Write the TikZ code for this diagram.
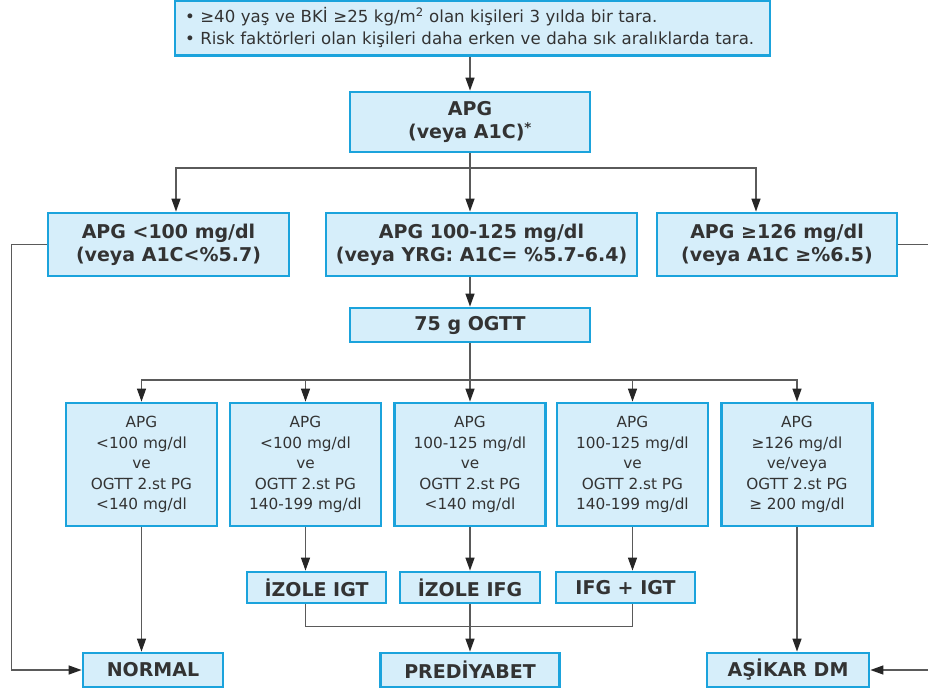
\documentclass[tikz,border=0pt]{standalone}
\usepackage{fontspec}
\setmainfont{DejaVu Sans}
\usepackage{xcolor}
\usetikzlibrary{arrows.meta,positioning,calc}
\definecolor{boxfill}{HTML}{D6EEFA}
\definecolor{boxline}{HTML}{1BA3DC}
\definecolor{flowgray}{HTML}{5A5A5A}
\definecolor{textgray}{HTML}{333333}

\begin{document}
\begin{tikzpicture}[x=1pt, y=-1pt, text=textgray,
  box/.style={draw=boxline, fill=boxfill, line width=2.8pt, align=center, inner sep=0pt},
  bbox/.style={box, font=\fontsize{19}{23}\selectfont\bfseries},
  sbox/.style={box, minimum width=151pt, minimum height=123pt, font=\fontsize{15.3}{20.5}\selectfont},
  flow/.style={draw=flowgray, line width=1.3pt, -{Triangle[length=13pt,width=9pt,color=black!85]}},
  link/.style={draw=flowgray, line width=1.3pt}]
  \useasboundingbox (0,0) rectangle (928,695);
  \node[box, text width=575pt, inner xsep=10pt, minimum height=55pt, align=left, font=\fontsize{16.6}{22}\selectfont] (screen) at (472.5,28) {• ≥40 yaş ve BKİ ≥25 kg/m\textsuperscript{2} olan kişileri 3 yılda bir tara.\\• Risk faktörleri olan kişileri daha erken ve daha sık aralıklarda tara.};
  \node[bbox, minimum width=240pt, minimum height=60pt] (apg) at (470,122) {APG\\(veya A1C)\textsuperscript{*}};
  \node[bbox, minimum width=241pt, minimum height=63pt] (low) at (168.5,244.5) {APG <100 mg/dl\\(veya A1C<\%5.7)};
  \node[bbox, minimum width=311pt, minimum height=63pt] (mid) at (481.5,244.5) {APG 100-125 mg/dl\\(veya YRG: A1C= \%5.7-6.4)};
  \node[bbox, minimum width=240pt, minimum height=63pt] (high) at (777,244.5) {APG ≥126 mg/dl\\(veya A1C ≥\%6.5)};
  \node[bbox, minimum width=240pt, minimum height=34pt] (ogtt) at (470,325) {75 g OGTT};
  \foreach \n/\x/\txt in {1/141.5/{APG\\<100 mg/dl\\ve\\OGTT 2.st PG\\<140 mg/dl},
                          2/305.5/{APG\\<100 mg/dl\\ve\\OGTT 2.st PG\\140-199 mg/dl},
                          3/470/{APG\\100-125 mg/dl\\ve\\OGTT 2.st PG\\<140 mg/dl},
                          4/632.5/{APG\\100-125 mg/dl\\ve\\OGTT 2.st PG\\140-199 mg/dl},
                          5/797/{APG\\≥126 mg/dl\\ve/veya\\OGTT 2.st PG\\≥ 200 mg/dl}}
    \node[sbox] (c\n) at (\x,464.5) {\txt};
  \node[bbox, minimum width=139pt, minimum height=31pt] (igt) at (316.5,587.5) {İZOLE IGT};
  \node[bbox, minimum width=140pt, minimum height=31pt] (ifg) at (470,587.5) {İZOLE IFG};
  \node[bbox, minimum width=139pt, minimum height=31pt] (both) at (625.5,587.5) {IFG + IGT};
  \node[bbox, minimum width=140pt, minimum height=34pt] (normal) at (153,670) {NORMAL};
  \node[bbox, minimum width=179pt, minimum height=34pt] (pre) at (470,670) {PREDİYABET};
  \node[bbox, minimum width=162pt, minimum height=34pt] (dm) at (788,670) {AŞİKAR DM};
  \coordinate (split1) at (470,168);
  \coordinate (split2) at (470,380);
  \draw[flow] (apg.north |- screen.south) -- (apg.north);
  \draw[link] (apg.south) -- (split1);
  \draw[flow] (split1) -| ([xshift=7.5pt]low.north);
  \draw[flow] (split1) -- (mid.north -| split1);
  \draw[flow] (split1) -| ([xshift=-21pt]high.north);
  \draw[flow] (ogtt.north |- mid.south) -- (ogtt.north);
  \draw[link] (ogtt.south) -- (split2);
  \foreach \n in {1,...,5} \draw[flow] (split2) -| (c\n.north);
  \draw[flow] (c1.south) -- (c1.south |- normal.north);
  \draw[flow] (c2.south) -- (c2.south |- igt.north);
  \draw[flow] (c3.south) -- (ifg.north);
  \draw[flow] (c4.south) -- (c4.south |- both.north);
  \draw[flow] (c5.south) -- (c5.south |- dm.north);
  \draw[link] (c2.south |- igt.south) -- ++(0,22) -| (c4.south |- both.south);
  \draw[flow] (ifg.south) -- (pre.north);
  \draw[flow] (low.west) -- ++(-35,0) |- (normal.west);
  \draw[flow] (high.east) -- ++(40,0) |- (dm.east);
\end{tikzpicture}
\end{document}
